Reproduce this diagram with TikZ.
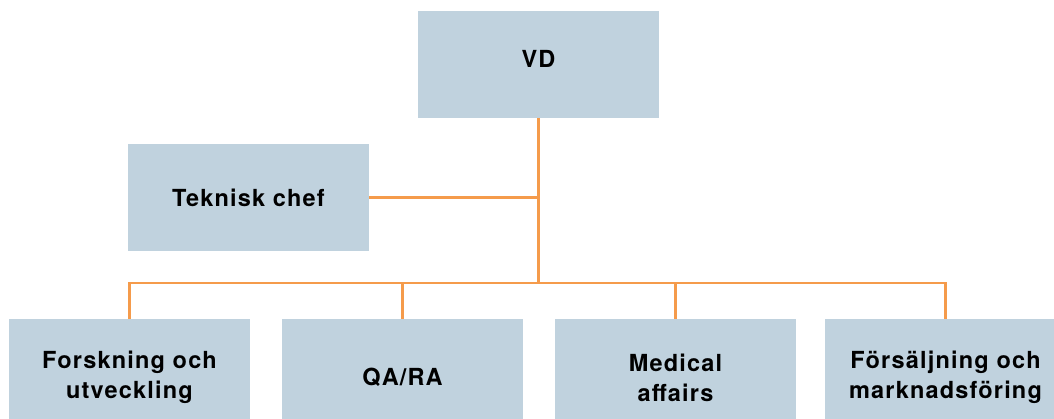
\documentclass[tikz,border=0pt]{standalone}
\usepackage{fontspec}
\setmainfont{TeX Gyre Heros}[LetterSpace=5]
\usepackage{tikz}
\definecolor{boxblue}{HTML}{C0D2DE}
\definecolor{linkorange}{HTML}{F59B4B}
\tikzset{
  unit/.style={fill=boxblue, inner sep=0pt, minimum width=241pt, minimum height=107pt,
    align=center, text width=238pt, font=\fontsize{23.5}{30}\selectfont\bfseries},
  dept/.style={unit, minimum height=117pt},
  link/.style={draw=linkorange, line width=2.5pt}
}
\begin{document}
\begin{tikzpicture}[x=1pt,y=-1pt]
    \useasboundingbox (0,0) rectangle (1054,419);
    \clip (0,0) rectangle (1054,419);
    \node[unit, text depth=12pt] (vd) at (538.5,64.5) {VD};
    \node[unit] (tek) at (248.5,197.5) {Teknisk chef};
    \node[dept] (forsk) at (129.5,377.5) {Forskning och\\utveckling};
    \node[dept] (qa) at (402.5,377.5) {QA/RA};
    \node[dept] (med) at (675.5,377.5) {Medical\\affairs};
    \node[dept] (sale) at (945.5,377.5) {Försäljning och\\marknadsföring};
    \coordinate (bus) at (538.5,283);
    \draw[link] (vd.south) -- (bus);
    \draw[link] (tek.east) -- (tek.east -| bus);
    \draw[link] (forsk.north) |- (bus) -| (sale.north);
    \draw[link] (qa.north) -- (qa.north |- bus) (med.north) -- (med.north |- bus);
  \end{tikzpicture}
\end{document}
